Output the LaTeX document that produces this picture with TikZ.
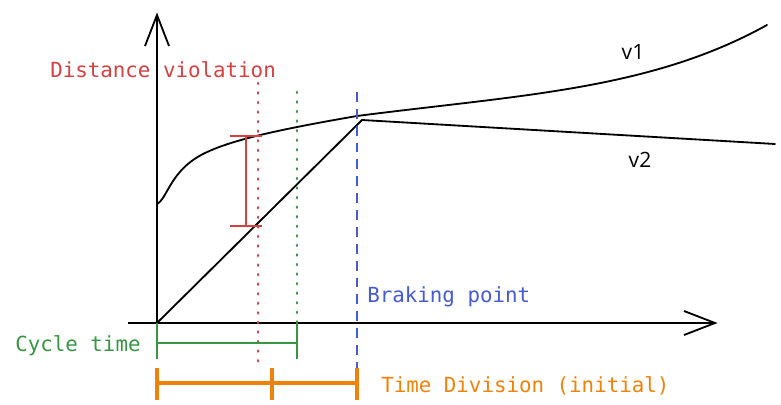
\documentclass[tikz,border=0pt]{standalone}
\usepackage{fontspec}
\usepackage{tikz}
\usetikzlibrary{positioning}
\newfontfamily\monofnt{DejaVu Sans Mono}
\newfontfamily\sansfnt{Open Sans}
\definecolor{violred}{RGB}{214,64,64}
\definecolor{cyclegreen}{RGB}{55,150,65}
\definecolor{brakeblue}{RGB}{70,90,210}
\definecolor{divorange}{RGB}{240,130,10}

\begin{document}
\begin{tikzpicture}[
        x=0.025cm, y=-0.025cm,
        axis/.style  = {line width=1.3pt},
        curve/.style = {line width=1.3pt, line cap=round},
        dots/.style  = {line width=2.1pt, line cap=round, dash pattern=on 0.6pt off 6.2pt},
        bar/.style   = {line width=1.2pt},
        tag/.style   = {font=\monofnt\fontsize{14.8}{17}\selectfont, inner sep=0pt, anchor=west},
        vlab/.style  = {font=\sansfnt\fontsize{15}{17}\selectfont, inner sep=0pt}
    ]
        \useasboundingbox (0,0) rectangle (781,405);
        % axes
        \coordinate (o)  at (157,323);
        \coordinate (yt) at (157,15);
        \coordinate (xs) at (128,323);
        \coordinate (xt) at (715,323);
        \draw[axis] (o) -- (yt);
        \draw[axis] (145,46) -- (yt) -- (169,46);
        \draw[axis] (xs) -- (xt);
        \draw[axis] (684,311) -- (xt) -- (684,335);
        % speed curves
        \coordinate (s1) at (157,204);
        \coordinate (e1) at (767,25);
        \draw[curve] (s1) .. controls (168,198) and (170,170) .. (205,153)
            .. controls (230,141) and (270,131) .. (357,116)
            .. controls (520,95) and (650,90) .. (e1);
        \coordinate (bk) at (362,120);
        \coordinate (e2) at (775,144);
        \draw[curve] (o) -- (bk) -- (e2);
        \node[vlab] (v1) at (633,52)  {v1};
        \node[vlab] (v2) at (640,160) {v2};
        % distance violation
        \coordinate (rt) at (258,83);
        \coordinate (rb) at (258,362);
        \draw[violred, dots] (rt) -- (rb);
        \coordinate (it) at (246,136);
        \coordinate (ib) at (246,226);
        \draw[violred, bar] (it) -- (ib);
        \draw[violred, bar] (230,136) -- (262,136);
        \draw[violred, bar] (230,226) -- (262,226);
        \node[tag, text=violred] (dv) at (50,70) {Distance violation};
        % cycle time
        \coordinate (gt) at (297,92);
        \coordinate (gb) at (297,323);
        \draw[cyclegreen, dots] (gt) -- (gb);
        \draw[cyclegreen, bar] (157,323) -- (157,359);
        \draw[cyclegreen, bar] (297,323) -- (297,359);
        \draw[cyclegreen, bar] (157,343) -- (297,343);
        \node[tag, text=cyclegreen] (ct) at (15,346) {Cycle time};
        % braking point
        \coordinate (bt) at (357,92);
        \coordinate (bb) at (357,372);
        \draw[brakeblue, line width=1.5pt, dash pattern=on 7pt off 5pt] (bt) -- (bb);
        \node[tag, text=brakeblue] (bp) at (367,297) {Braking point};
        % time division
        \foreach \xx in {157,272,357}
            \draw[divorange, line width=2.6pt] (\xx,368) -- (\xx,400);
        \draw[divorange, line width=2.6pt] (157,383) -- (357,383);
        \node[tag, text=divorange] (td) at (381,386) {Time Division (initial)};
    \end{tikzpicture}
\end{document}
